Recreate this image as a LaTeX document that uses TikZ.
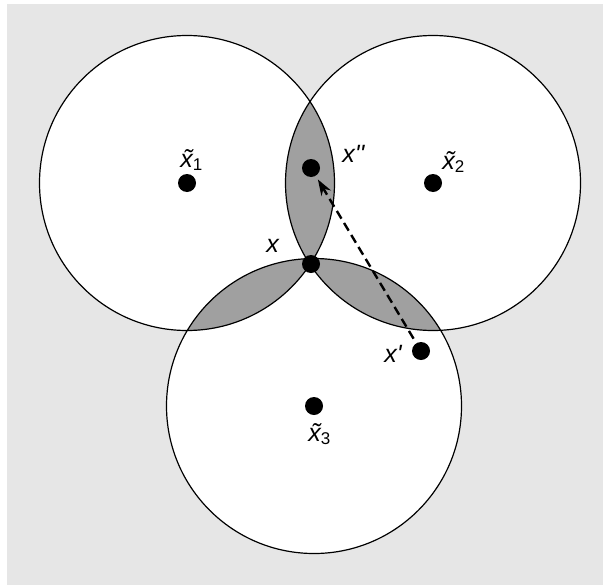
\documentclass[tikz,border=0pt]{standalone}
\usepackage{fontspec}
\setmainfont{Liberation Sans}
\usepackage{tikz}
\usetikzlibrary{arrows.meta}
\definecolor{bggray}{HTML}{E6E6E6}
\definecolor{lensgray}{HTML}{A0A0A0}
\newcommand{\tx}[1]{\textit{\~x}{\fontsize{8.5}{9}\selectfont\raisebox{-0.35ex}{#1}}}
\newcommand{\rad}{147.5}

\begin{document}
\begin{tikzpicture}[
  x=0.5pt, y=0.5pt,
  ring/.style  = {draw=black, line width=0.6pt},
  pt/.style    = {circle, fill=black, inner sep=0pt, minimum size=9pt},
  lbl/.style   = {font=\fontsize{12.5}{14}\selectfont\itshape, inner sep=0pt, anchor=base west},
  sub/.style   = {font=\fontsize{12.5}{14}\selectfont, inner sep=0pt, anchor=base west},
  darr/.style  = {-{Stealth[length=8pt,width=5.5pt]}, line width=1.2pt,
                  dash pattern=on 4.5pt off 2.5pt,
                  shorten <=2.5pt, shorten >=2pt},
]
\useasboundingbox (0,0) rectangle (603,585);
\fill[bggray] (7,0) rectangle (603,581);
% centres of the three circles
\coordinate (c1) at (187,402);
\coordinate (c2) at (433,402);
\coordinate (c3) at (314,179);
\fill[white] (c1) circle[radius=\rad] (c2) circle[radius=\rad] (c3) circle[radius=\rad];
% pairwise overlaps
\begin{scope}
  \clip (c1) circle[radius=\rad];
  \fill[lensgray] (c2) circle[radius=\rad];
  \fill[lensgray] (c3) circle[radius=\rad];
\end{scope}
\begin{scope}
  \clip (c2) circle[radius=\rad];
  \fill[lensgray] (c3) circle[radius=\rad];
\end{scope}
\draw[ring] (c1) circle[radius=\rad] (c2) circle[radius=\rad] (c3) circle[radius=\rad];
% points
\node[pt] (x1)  at (c1) {};
\node[pt] (x2)  at (c2) {};
\node[pt] (x3)  at (314,179) {};
\node[pt] (xpp) at (311,417) {};
\node[pt] (x)   at (311,321) {};
\node[pt] (xp)  at (421,234) {};
\draw[darr] (xp) -- (xpp);
% labels
\node[sub] (l1) at (180,418) {\tx{1}};
\node[sub] (l2) at (442,416) {\tx{2}};
\node[sub] (l3) at (308,144) {\tx{3}};
\node[lbl] (lpp) at (342,423) {x\textquotesingle\textquotesingle};
\node[lbl] (lx)  at (266,333) {x};
\node[lbl] (lp)  at (384,223) {x\textquotesingle};
\end{tikzpicture}
\end{document}
